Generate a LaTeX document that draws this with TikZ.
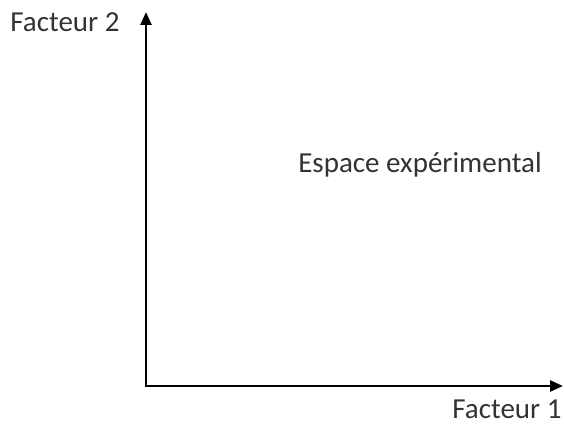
\documentclass[tikz,border=0pt]{standalone}
\usepackage{fontspec}
\setmainfont{Carlito}
\usetikzlibrary{arrows.meta, positioning}

\begin{document}
\begin{tikzpicture}[x=1pt, y=1pt, line width=2.6pt,
                    label/.style={font=\fontsize{29}{32}\selectfont, text=black!80, inner sep=0pt, anchor=base},
                    axis/.style={-{Triangle[length=13pt, width=11pt]}}]
    \useasboundingbox (0,0) rectangle (564,426);

    % Axes
    \coordinate (O) at (146,40);
    \coordinate (Ytip) at (146,414);
    \coordinate (Xtip) at (563,40);
    \draw[axis] ([yshift=-1.3pt]O) -- (Ytip);
    \draw[axis] ([xshift=-1.3pt]O) -- (Xtip);

    % Labels
    \node[label] (F2) at (65,394) {Facteur 2};
    \node[label] (F1) at (507,8) {Facteur 1};
    \node[label] (ES) at (420,253) {Espace expérimental};
\end{tikzpicture}
\end{document}
